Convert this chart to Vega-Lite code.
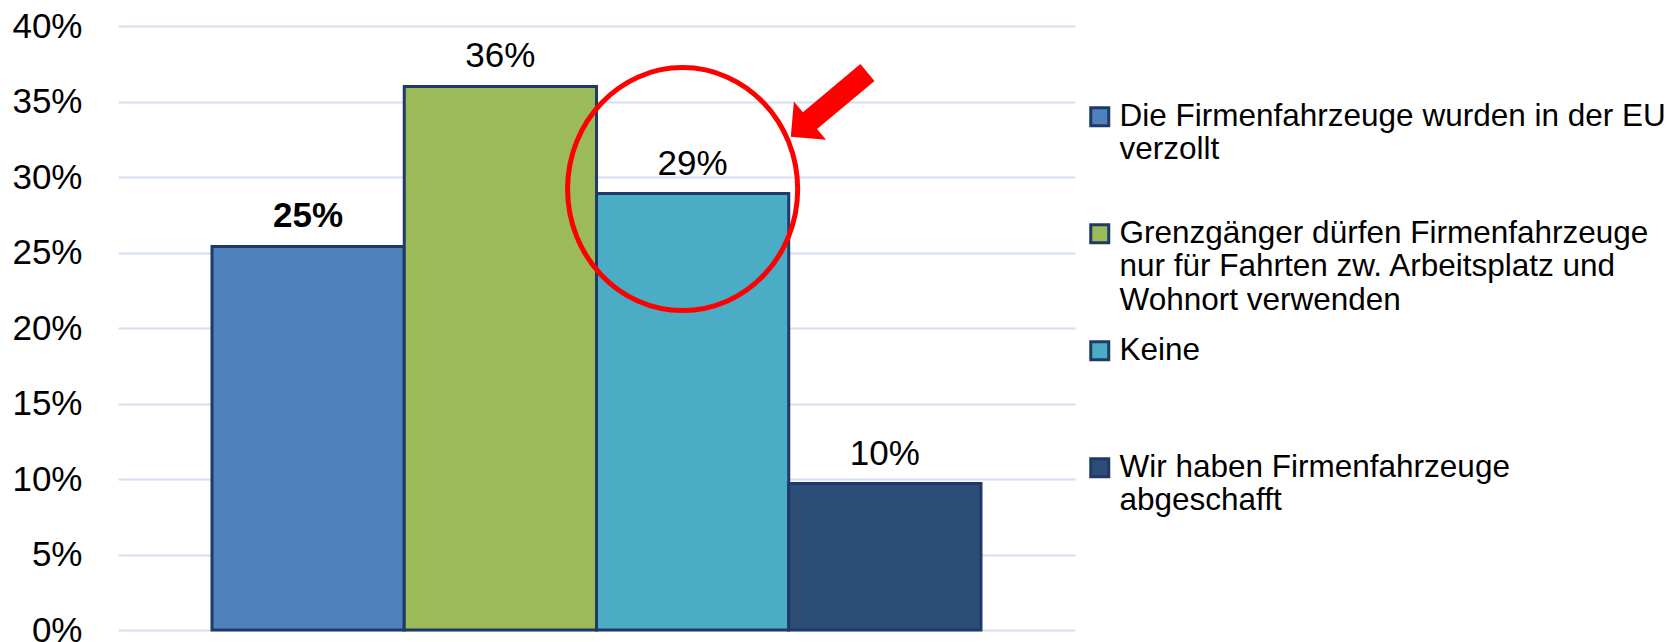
{
  "$schema": "https://vega.github.io/schema/vega-lite/v6.json",
  "width": 957,
  "height": 604,
  "autosize": {"type": "none"},
  "padding": {"left": 118, "top": 26, "right": 604, "bottom": 12},
  "background": "white",
  "config": {
    "view": {"stroke": null},
    "font": "Liberation Sans",
    "legend": {"gridAlign": "all"}
  },
  "data": {
    "values": [
      {"category": "Die Firmenfahrzeuge wurden in der EU verzollt", "v": 0.254},
      {"category": "Grenzgänger dürfen Firmenfahrzeuge nur für Fahrten zw. Arbeitsplatz und Wohnort verwenden", "v": 0.36},
      {"category": "Keine", "v": 0.289},
      {"category": "Wir haben Firmenfahrzeuge abgeschafft", "v": 0.097}
    ]
  },
  "encoding": {
    "x": {
      "field": "category",
      "type": "nominal",
      "sort": null,
      "axis": null,
      "scale": {"paddingInner": 0, "paddingOuter": 0.489}
    },
    "y": {
      "field": "v",
      "type": "quantitative",
      "scale": {"domain": [0, 0.4]},
      "axis": {
        "title": null,
        "values": [0, 0.05, 0.1, 0.15, 0.2, 0.25, 0.3, 0.35, 0.4],
        "format": ".0%",
        "domain": false,
        "ticks": false,
        "labelFontSize": 35,
        "labelColor": "#000000",
        "labelPadding": 36,
        "gridColor": "#D3DEF1",
        "gridWidth": 2
      }
    }
  },
  "layer": [
    {
      "mark": {"type": "bar", "stroke": "#1F3A68", "strokeWidth": 3},
      "encoding": {
        "color": {
          "field": "category",
          "type": "nominal",
          "sort": null,
          "scale": {
            "domain": [
              "Die Firmenfahrzeuge wurden in der EU verzollt",
              "Grenzgänger dürfen Firmenfahrzeuge nur für Fahrten zw. Arbeitsplatz und Wohnort verwenden",
              "Keine",
              "Wir haben Firmenfahrzeuge abgeschafft"
            ],
            "range": ["#4F81BD", "#9BBB59", "#4BACC6", "#2C4D75"]
          },
          "legend": {
            "title": null,
            "orient": "none",
            "legendX": 966,
            "legendY": 75,
            "padding": 0,
            "symbolType": "square",
            "symbolSize": 324,
            "symbolStrokeColor": "#1F3A68",
            "symbolStrokeWidth": 3,
            "symbolOpacity": 1,
            "labelFontSize": 31.5,
            "labelLineHeight": 36.7,
            "labelColor": "#000000",
            "labelLimit": 700,
            "labelOffset": 4,
            "labelBaseline": "top",
            "rowPadding": 17,
            "labelExpr": "datum.value == 'Keine' ? 'Keine' : indexof(datum.value, 'EU') >= 0 ? ['Die Firmenfahrzeuge wurden in der EU', 'verzollt'] : indexof(datum.value, 'Grenzg') >= 0 ? ['Grenzgänger dürfen Firmenfahrzeuge', 'nur für Fahrten zw. Arbeitsplatz und', 'Wohnort verwenden'] : ['Wir haben Firmenfahrzeuge', 'abgeschafft']",
            "encode": {"labels": {"update": {"dy": {"value": -16}}}}
          }
        }
      }
    },
    {
      "transform": [{"filter": "datum.category != 'Die Firmenfahrzeuge wurden in der EU verzollt'"}],
      "mark": {"type": "text", "baseline": "alphabetic", "dy": -19, "fontSize": 35, "color": "#000000"},
      "encoding": {
        "text": {"field": "v", "type": "quantitative", "format": ".0%"}
      }
    },
    {
      "transform": [{"filter": "datum.category == 'Die Firmenfahrzeuge wurden in der EU verzollt'"}],
      "mark": {"type": "text", "baseline": "alphabetic", "dy": -19, "fontSize": 35, "fontWeight": "bold", "color": "#000000"},
      "encoding": {
        "text": {"field": "v", "type": "quantitative", "format": ".0%"}
      }
    },
    {
      "transform": [{"filter": "datum.category == 'Keine'"}],
      "mark": {
        "type": "point",
        "shape": "M -0.947 0 A 0.947 1 0 1 1 0.947 0 A 0.947 1 0 1 1 -0.947 0 Z",
        "size": 59049,
        "filled": false,
        "stroke": "#FF0000",
        "strokeWidth": 5,
        "opacity": 1,
        "xOffset": -10,
        "yOffset": -4.5
      },
      "encoding": {}
    },
    {
      "transform": [{"filter": "datum.category == 'Keine'"}],
      "mark": {
        "type": "point",
        "shape": "M -1 0 L -0.5 -0.5 L -0.5 -0.22 L 1 -0.22 L 1 0.22 L -0.5 0.22 L -0.5 0.5 Z",
        "size": 10000,
        "filled": true,
        "fill": "#FF0000",
        "strokeWidth": 0,
        "opacity": 1,
        "angle": 320,
        "xOffset": 136.5,
        "yOffset": -89
      },
      "encoding": {}
    }
  ]
}
